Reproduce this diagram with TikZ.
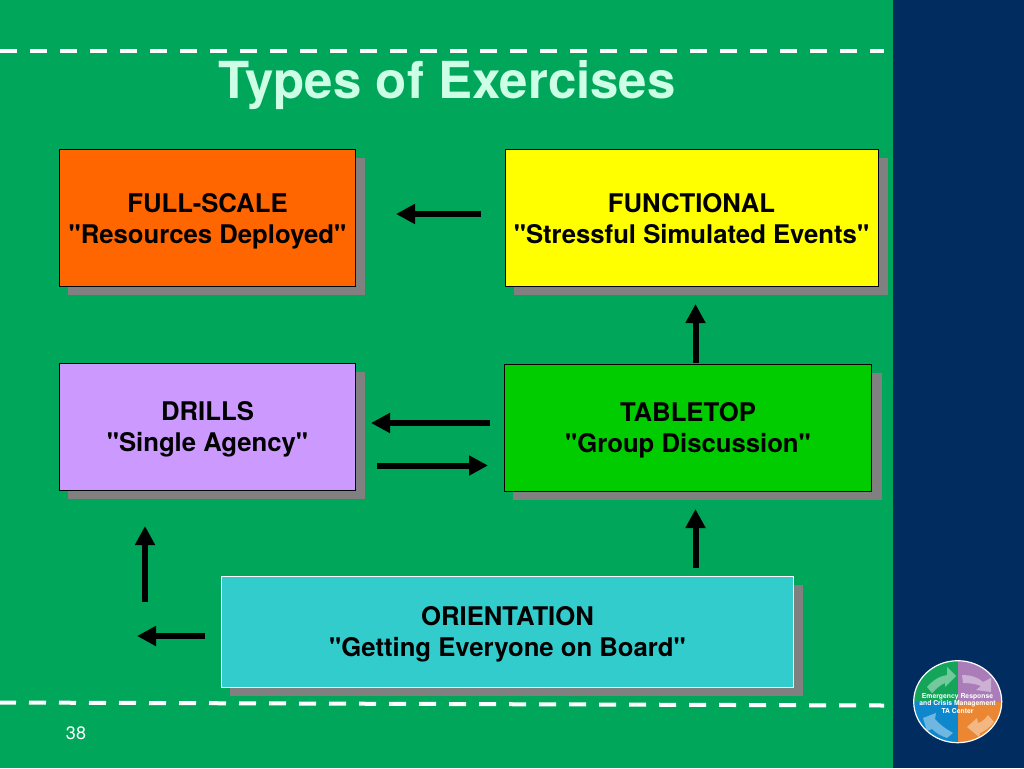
\documentclass[tikz,border=0pt]{standalone}
\usepackage{fontspec}
\setmainfont[Ligatures=TeXOff]{TeX Gyre Heros}
\usetikzlibrary{arrows.meta}
\definecolor{bggreen}{RGB}{0,166,90}
\definecolor{navy}{RGB}{0,44,95}
\definecolor{titlec}{RGB}{204,255,230}
\definecolor{shadowc}{RGB}{128,128,128}
\definecolor{cfull}{RGB}{255,102,0}
\definecolor{cfunc}{RGB}{255,255,0}
\definecolor{cdrill}{RGB}{204,153,255}
\definecolor{ctable}{RGB}{0,204,0}
\definecolor{corient}{RGB}{51,204,204}
\definecolor{lgreen}{RGB}{20,165,90}
\definecolor{lpurple}{RGB}{170,125,185}
\definecolor{lorange}{RGB}{235,135,50}
\definecolor{lblue}{RGB}{15,135,205}
\newcommand{\boxtext}[2]{\rule{0pt}{25pt}#1\\#2\rule[-6pt]{0pt}{6pt}}
\tikzset{
 x=1pt,y=-1pt,
 boxnode/.style={draw=black,line width=1pt,minimum width=#1,inner sep=0pt,align=center,font=\fontsize{25.7}{31}\selectfont\bfseries,text=black},
 flow/.style={line width=6pt,draw=black,-{Triangle[length=19pt,width=19pt]}},
 rule/.style={draw=white,line width=4pt,dash pattern=on 17pt off 13pt},
 lgarrow/.style={fill=white,fill opacity=.4,draw=none},
}
\begin{document}
\begin{tikzpicture}
\useasboundingbox (0,0) rectangle (1024,768);
\fill[bggreen] (0,0) rectangle (893,768);
\fill[navy] (893,0) rectangle (1024,768);
\coordinate (r1a) at (0,51); \coordinate (r1b) at (884,51);
\coordinate (r2a) at (0,702.5); \coordinate (r2b) at (884,705.5);
\draw[rule] (r1a) -- (r1b);
\draw[rule,dash phase=1pt] (r2a) -- (r2b);
\node[text=titlec,font=\fontsize{51}{60}\selectfont\bfseries,inner sep=0pt] (title) at (447,85) {Types of Exercises};
% shadows
\fill[shadowc] (68,158) rectangle (365,295);
\fill[shadowc] (514,158) rectangle (888,295);
\fill[shadowc] (68,372) rectangle (365,499);
\fill[shadowc] (513,373) rectangle (882,500);
\fill[shadowc] (230,585) rectangle (803,696);
% boxes
\node[boxnode=296pt,fill=cfull,minimum height=137pt] (full) at (207.5,218) {\boxtext{FULL-SCALE}{"Resources Deployed"}};
\node[boxnode=373pt,fill=cfunc,minimum height=137pt] (func) at (691.5,218) {\boxtext{FUNCTIONAL}{"Stressful Simulated Events"}};
\node[boxnode=296pt,fill=cdrill,minimum height=127pt] (drill) at (207.5,426.5) {\boxtext{DRILLS}{"Single Agency"}};
\node[boxnode=367pt,fill=ctable,minimum height=127pt] (table) at (688,427.5) {\boxtext{TABLETOP}{"Group Discussion"}};
\node[boxnode=572pt,fill=corient,draw=white,minimum height=111pt] (orient) at (507.5,631.5) {\boxtext{ORIENTATION}{"Getting Everyone on Board"}};
% arrows
\coordinate (a1s) at (481,214); \coordinate (a1e) at (396,214);
\coordinate (a2s) at (695.5,363); \coordinate (a2e) at (695.5,304);
\coordinate (a3s) at (490,423); \coordinate (a3e) at (371,423);
\coordinate (a4s) at (377,465.5); \coordinate (a4e) at (488,465.5);
\coordinate (a5s) at (695.5,568); \coordinate (a5e) at (695.5,509);
\coordinate (a6s) at (145,602); \coordinate (a6e) at (145,526);
\coordinate (a7s) at (205,636); \coordinate (a7e) at (137,636);
\foreach \i in {1,...,7} \draw[flow] (a\i s) -- (a\i e);
% page number
\node[text=white,font=\fontsize{18}{20}\selectfont,inner sep=0pt] (pg) at (76,733) {38};
% logo
\begin{scope}
\clip (957.7,701.7) ellipse [x radius=44pt,y radius=41pt];
\fill[lgreen] (910,658) rectangle (957.7,702);
\fill[lpurple] (957.7,658) rectangle (1004,702);
\fill[lorange] (957.7,702) rectangle (1004,746);
\fill[lblue] (910,702) rectangle (957.7,746);
\end{scope}
\draw[white,line width=1.2pt] (957.7,701.7) ellipse [x radius=44pt,y radius=41pt];
\fill[lgarrow] (927,687) .. controls (933,680) and (940,676) .. (947,675) -- (947,667) -- (956,676) -- (945,687) -- (945,683) .. controls (940,685) and (936,689) .. (932,693) -- cycle;
\fill[lgarrow] (962,675) .. controls (970,675) and (978,677) .. (983,682) -- (991,678) -- (991,692) -- (976,690) -- (981,686) .. controls (976,684) and (970,683) .. (963,683) -- cycle;
\fill[lgarrow] (967,727) -- (977,718) -- (978,723) .. controls (982,722) and (985,719) .. (988,715) -- (994,722) .. controls (990,727) and (985,731) .. (980,733) -- (979,737) -- cycle;
\fill[lgarrow] (923,718) -- (936,713) -- (935,719) .. controls (939,724) and (946,729) .. (953,733) -- (947,738) .. controls (941,736) and (936,733) .. (932,729) -- (927,731) -- cycle;
\node[text=white,align=center,inner sep=0pt,font=\fontsize{6.8}{7.8}\selectfont\bfseries] (logotext) at (957.5,703.5) {Emergency Response\\and Crisis Management\\TA Center};
\end{tikzpicture}
\end{document}
